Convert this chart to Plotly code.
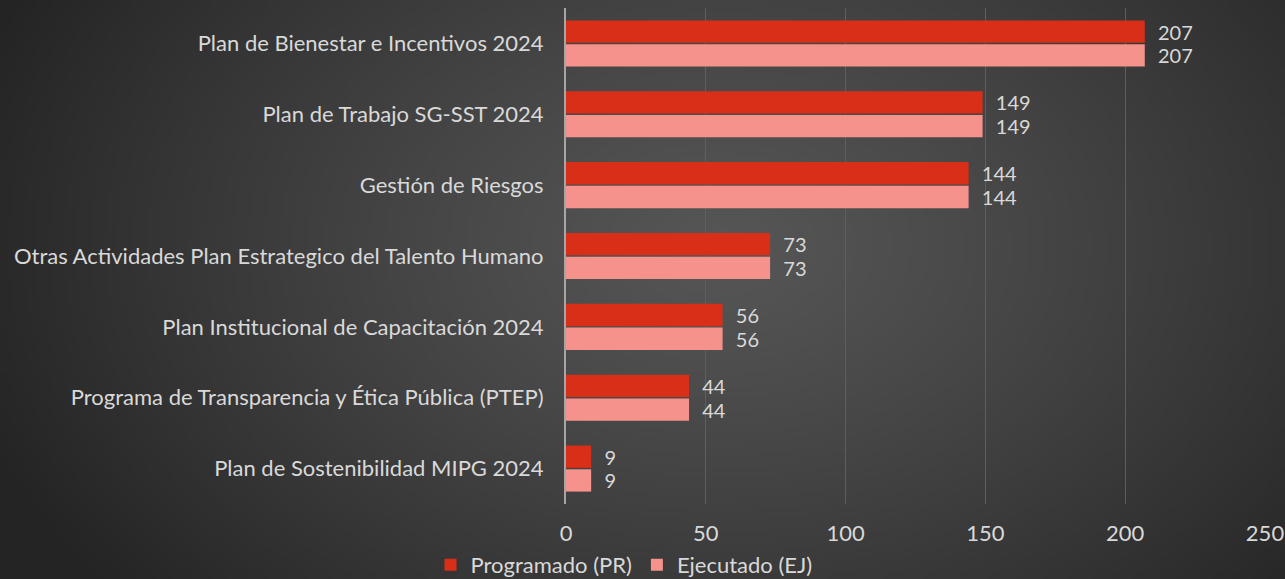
import base64
import struct
import zlib

import numpy as np
import plotly.graph_objects as go

categories = [
    "Plan de Bienestar e Incentivos 2024",
    "Plan de Trabajo SG-SST 2024",
    "Gestión de Riesgos",
    "Otras Actividades Plan Estrategico del Talento Humano",
    "Plan Institucional de Capacitación 2024",
    "Programa de Transparencia y Ética Pública (PTEP)",
    "Plan de Sostenibilidad MIPG 2024",
]
programado = [207, 149, 144, 73, 56, 44, 9]
ejecutado = [207, 149, 144, 73, 56, 44, 9]
x_ticks = [0, 50, 100, 150, 200, 250]

W, H = 1285, 579
ML, MR, MT, MB = 566, 20, 8, 75


# radial grey background, like the Excel chart style
def gradient_png(w, h):
    yy, xx = np.mgrid[0:h, 0:w]
    cx, cy = w * 0.56, h * 0.42
    d = np.sqrt(((xx - cx) / (w * 0.62)) ** 2 + ((yy - cy) / (h * 0.95)) ** 2)
    d = np.clip(d, 0, 1)
    v = (86 - (86 - 36) * d ** 1.2).astype(np.uint8)
    raw = b"".join(b"\x00" + bytes(np.repeat(row, 3)) for row in v)

    def chunk(tag, data):
        c = struct.pack(">I", len(data)) + tag + data
        return c + struct.pack(">I", zlib.crc32(tag + data) & 0xFFFFFFFF)

    png = b"\x89PNG\r\n\x1a\n"
    png += chunk(b"IHDR", struct.pack(">IIBBBBB", w, h, 8, 2, 0, 0, 0))
    png += chunk(b"IDAT", zlib.compress(raw, 9))
    png += chunk(b"IEND", b"")
    return "data:image/png;base64," + base64.b64encode(png).decode()


pw = W - ML - MR
ph = H - MT - MB

font = dict(family="Lato, Open Sans, sans-serif", size=22, color="#d9d9d9")
lblfont = dict(family="Lato, Open Sans, sans-serif", size=20, color="#d9d9d9")

fig = go.Figure()
fig.add_trace(go.Bar(
    y=categories, x=programado, orientation="h", name="Programado (PR)",
    marker=dict(color="#d92f18", line=dict(width=0)),
    text=programado, texttemplate="  %{x}", textposition="outside",
    textfont=lblfont, constraintext="none", cliponaxis=False,
))
fig.add_trace(go.Bar(
    y=categories, x=ejecutado, orientation="h", name="Ejecutado (EJ)",
    marker=dict(color="#f4928b", line=dict(width=0)),
    text=ejecutado, texttemplate="  %{x}", textposition="outside",
    textfont=lblfont, constraintext="none", cliponaxis=False,
))

fig.add_layout_image(dict(
    source=gradient_png(257, 116),
    xref="paper", yref="paper",
    x=-ML / pw, y=1 + MT / ph,
    sizex=W / pw, sizey=H / ph,
    sizing="stretch", layer="below", xanchor="left", yanchor="top",
))

fig.update_layout(
    width=W, height=H,
    margin=dict(l=ML, r=MR, t=MT, b=MB, autoexpand=False),
    paper_bgcolor="#3a3a3a",
    plot_bgcolor="rgba(0,0,0,0)",
    barmode="group",
    bargap=0.33,
    bargroupgap=0.06,
    font=font,
    showlegend=True,
    legend=dict(
        orientation="h", x=(624 - ML) / pw, xanchor="center",
        y=-(544 - (H - MB)) / ph, yanchor="top",
        font=dict(family="Lato, Open Sans, sans-serif", size=22, color="#d9d9d9"),
        bgcolor="rgba(0,0,0,0)",
    ),
    xaxis=dict(
        range=[0, 250], tickvals=x_ticks, showgrid=True,
        gridcolor="#5e5e5e", gridwidth=1, zeroline=False,
        showline=False, tickfont=font, ticklabelstandoff=14, automargin=False,
    ),
    yaxis=dict(
        autorange="reversed", showgrid=False, showline=True,
        linecolor="#a6a6a6", linewidth=2, tickfont=font,
        ticklabelstandoff=16, automargin=False,
    ),
)

# page has a default 8px body margin; remove it so the chart fills the window
fig.write_html(
    "out.html",
    config={"displayModeBar": False},
    post_script="document.body.style.margin='0';",
)
